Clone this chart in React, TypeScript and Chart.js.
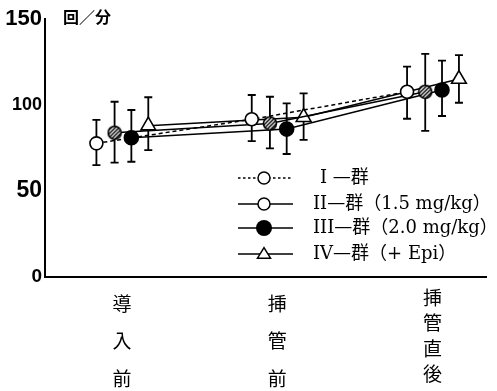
import { useEffect, useRef } from 'react';
import { Chart, registerables } from 'chart.js';

Chart.register(...registerables);

// Time points (x categories)
const categories = ['導入前', '挿管前', '挿管直後'];

// Series names
const seriesLabels = ['I —群', 'II—群（1.5 mg/kg）', 'III—群（2.0 mg/kg）', 'IV—群（+ Epi）'];

// Heart rate (回/分): means and error-bar limits per group
const groupIMean = [77.7, 91.7, 107.7];
const groupILow = [65.1, 79, 92];
const groupIHigh = [91.3, 105.8, 122.3];

const groupIIMean = [83.9, 89.3, 107.7];
const groupIILow = [66.5, 74.8, 85];
const groupIIHigh = [101.9, 104.8, 129.7];

const groupIIIMean = [81, 86, 108.7];
const groupIIILow = [67, 71.5, 93.6];
const groupIIIHigh = [97.1, 101, 125.8];

const groupIVMean = [88, 92.9, 115.1];
const groupIVLow = [73.8, 79.7, 101.3];
const groupIVHigh = [104.5, 106.8, 129];

// y-axis ticks
const yTicks = [0, 50, 100, 150];
const yTickSizes: Record<number, number> = { 0: 19, 50: 23, 100: 18, 150: 22 };

const means = [groupIMean, groupIIMean, groupIIIMean, groupIVMean];
const lows = [groupILow, groupIILow, groupIIILow, groupIVLow];
const highs = [groupIHigh, groupIIHigh, groupIIIHigh, groupIVHigh];

// horizontal spread of the four groups around each time point
const spread = [-0.164, -0.047, 0.061, 0.17];

function hatchedCircle(): HTMLCanvasElement {
  const c = document.createElement('canvas');
  c.width = 16;
  c.height = 16;
  const g = c.getContext('2d')!;
  g.beginPath();
  g.arc(8, 8, 6.5, 0, Math.PI * 2);
  g.fillStyle = '#fff';
  g.fill();
  g.save();
  g.clip();
  g.strokeStyle = '#000';
  g.lineWidth = 1.4;
  for (let k = -16; k < 32; k += 3.8) {
    g.beginPath();
    g.moveTo(k, 16);
    g.lineTo(k + 16, 0);
    g.stroke();
  }
  g.restore();
  g.beginPath();
  g.arc(8, 8, 6.5, 0, Math.PI * 2);
  g.lineWidth = 1.6;
  g.strokeStyle = '#000';
  g.stroke();
  return c;
}

const errorBars = {
  id: 'errorBars',
  beforeDatasetsDraw(chart: any) {
    const { ctx, scales } = chart;
    const x = scales.x;
    const y = scales.y;
    ctx.save();
    ctx.strokeStyle = '#000';
    ctx.lineWidth = 1.8;
    means.forEach((m, si) => {
      m.forEach((_, i) => {
        const px = x.getPixelForValue(i + spread[si]);
        const top = y.getPixelForValue(highs[si][i]);
        const bot = y.getPixelForValue(lows[si][i]);
        ctx.beginPath();
        ctx.moveTo(px, top);
        ctx.lineTo(px, bot);
        ctx.moveTo(px - 4, top);
        ctx.lineTo(px + 4, top);
        ctx.moveTo(px - 4, bot);
        ctx.lineTo(px + 4, bot);
        ctx.stroke();
      });
    });
    ctx.restore();
  },
};

const legendAndUnit = {
  id: 'legendAndUnit',
  afterDraw(chart: any) {
    const { ctx, chartArea } = chart;
    ctx.save();
    // unit label
    ctx.fillStyle = '#000';
    ctx.font = 'bold 16px "Noto Sans CJK JP", sans-serif';
    ctx.textAlign = 'left';
    ctx.textBaseline = 'middle';
    ctx.fillText('回／分', chartArea.left + 18, 17);

    // legend
    const x0 = chartArea.left + 193;
    const x1 = x0 + 55;
    const mx = x0 + 26;
    const rowY = [178, 204, 228, 254];
    ctx.strokeStyle = '#000';
    ctx.lineWidth = 1.5;
    seriesLabels.forEach((label, si) => {
      const yy = rowY[si];
      ctx.beginPath();
      ctx.setLineDash(si === 0 ? [2.5, 2.5] : []);
      ctx.moveTo(x0, yy);
      ctx.lineTo(x1, yy);
      ctx.stroke();
      ctx.setLineDash([]);
      ctx.beginPath();
      if (si === 3) {
        const r = 7.5;
        ctx.moveTo(mx, yy - r * 0.85);
        ctx.lineTo(mx + r * 0.87, yy + r * 0.55);
        ctx.lineTo(mx - r * 0.87, yy + r * 0.55);
        ctx.closePath();
        ctx.fillStyle = '#fff';
        ctx.fill();
        ctx.stroke();
      } else if (si === 2) {
        ctx.arc(mx, yy, 8, 0, Math.PI * 2);
        ctx.fillStyle = '#000';
        ctx.fill();
      } else {
        ctx.arc(mx, yy, 6, 0, Math.PI * 2);
        ctx.fillStyle = '#fff';
        ctx.fill();
        ctx.stroke();
      }
      ctx.fillStyle = '#000';
      ctx.font = '18px "DejaVu Serif", "Noto Sans CJK JP", serif';
      ctx.textAlign = 'left';
      ctx.textBaseline = 'middle';
      ctx.fillText(label, si === 0 ? 320 : 313, yy);
    });
    ctx.restore();
  },
};

export default function App() {
  const ref = useRef<HTMLCanvasElement>(null);

  useEffect(() => {
    if (!ref.current) return;
    const hatch = hatchedCircle();
    const styles = [
      { pointStyle: 'circle', pointRadius: 6.5, pointBackgroundColor: '#fff', borderDash: [4, 3] },
      { pointStyle: hatch, pointRadius: 6.5, pointBackgroundColor: '#fff', borderDash: [] },
      { pointStyle: 'circle', pointRadius: 7, pointBackgroundColor: '#000', borderDash: [] },
      { pointStyle: 'triangle', pointRadius: 8.5, pointBackgroundColor: '#fff', borderDash: [] },
    ];
    const datasets = means.map((m, si) => ({
      label: seriesLabels[si],
      data: m.map((v, i) => ({ x: i + spread[si], y: v })),
      borderColor: '#000',
      borderWidth: 1.5,
      borderDash: styles[si].borderDash,
      pointStyle: styles[si].pointStyle as any,
      pointRadius: styles[si].pointRadius,
      pointBackgroundColor: styles[si].pointBackgroundColor,
      pointBorderColor: '#000',
      pointBorderWidth: 1.6,
      tension: 0,
      fill: false,
    }));

    const chart = new Chart(ref.current, {
      type: 'line',
      data: { datasets },
      options: {
        animation: false,
        responsive: false,
        events: [],
        layout: { padding: { top: 19, right: 1, bottom: 0, left: 0 } },
        plugins: { legend: { display: false }, tooltip: { enabled: false } },
        scales: {
          x: {
            type: 'linear',
            min: -0.495,
            max: 2.35,
            afterBuildTicks: (scale: any) => {
              scale.ticks = categories.map((_, i) => ({ value: i }));
            },
            afterFit: (scale: any) => {
              scale.height = 114;
            },
            grid: { display: false, drawTicks: false, tickLength: 0 },
            border: { display: true, color: '#000', width: 2 },
            ticks: {
              autoSkip: false,
              maxRotation: 0,
              padding: 8,
              color: '#000',
              font: (ctx: any) => ({
                family: '"Noto Sans CJK JP", sans-serif',
                size: 19,
                lineHeight: Array.from(categories[ctx.index] || '').length > 3 ? 25.5 / 19 : 37.5 / 19,
              }),
              callback: (_v: any, index: number) => Array.from(categories[index] || ''),
            },
          },
          y: {
            min: 0,
            max: 150,
            afterBuildTicks: (scale: any) => {
              scale.ticks = yTicks.map((v) => ({ value: v }));
            },
            afterFit: (scale: any) => {
              scale.width = 45;
            },
            grid: { display: false, drawTicks: false, tickLength: 0 },
            border: { display: true, color: '#000', width: 2 },
            ticks: {
              padding: 3,
              color: '#000',
              font: (ctx: any) => ({
                family: '"Liberation Sans", Arial, sans-serif',
                weight: 'bold',
                size: yTickSizes[ctx.tick?.value] ?? 18,
              }),
            },
          },
        },
      },
      plugins: [errorBars, legendAndUnit],
    });
    return () => chart.destroy();
  }, []);

  return (
    <div style={{ position: 'fixed', left: 0, top: 0, width: 497, height: 391, background: '#fff' }}>
      <canvas ref={ref} width={497} height={391} style={{ display: 'block' }} />
    </div>
  );
}
